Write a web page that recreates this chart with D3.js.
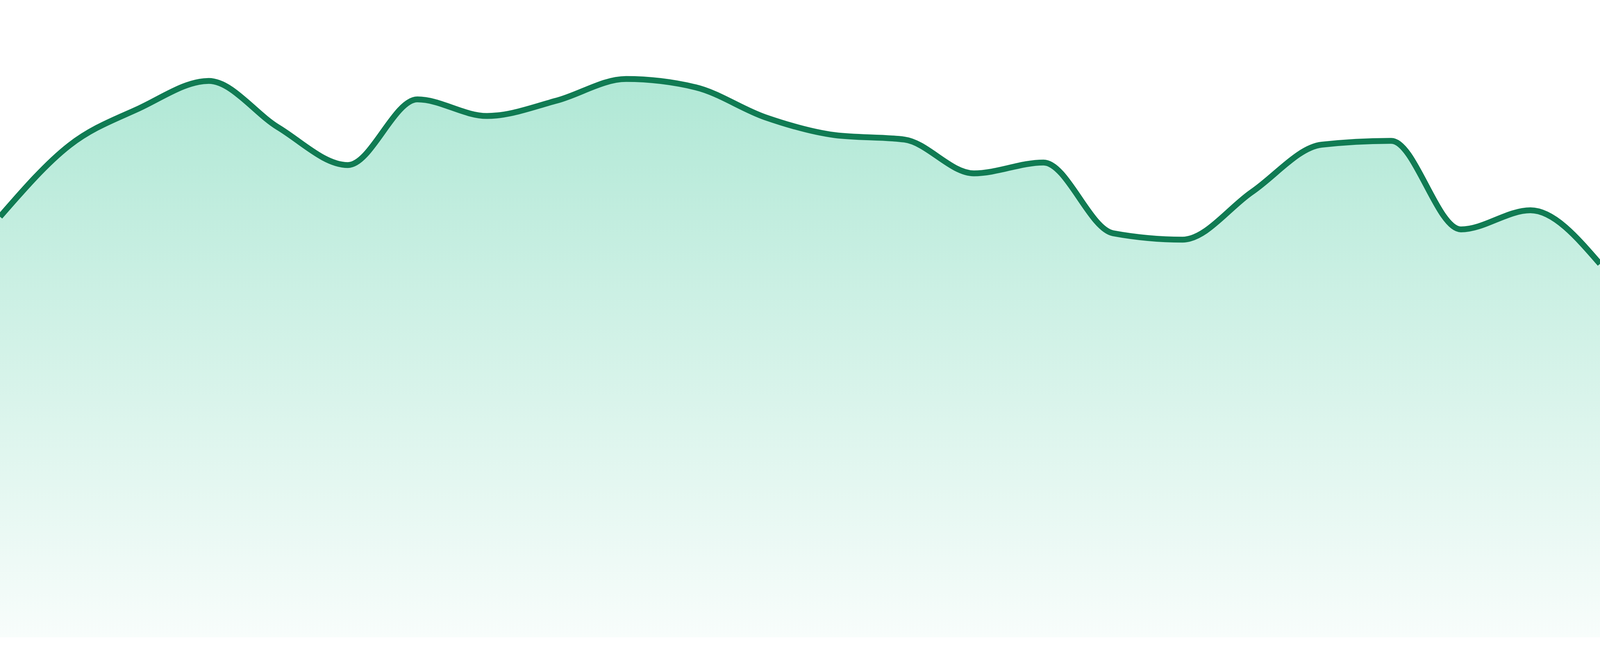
<!DOCTYPE html>
<html>
<head>
<meta charset="utf-8">
<script src="https://cdn.jsdelivr.net/npm/d3@7"></script>
<style>
  html, body { margin: 0; padding: 0; background: #ffffff; overflow: hidden; }
  svg { display: block; }
</style>
</head>
<body>
<div class="container"></div>
<script>
// one value per step (0-100 scale)
const pasos = d3.range(24)
const valores = [66.0, 77.2, 83.0, 87.3, 80.0, 74.1, 84.4, 81.8,
                 84.2, 87.6, 86.3, 81.6, 78.8, 78.1, 72.8, 74.5,
                 63.4, 62.4, 69.9, 77.3, 77.9, 64.0, 67.0, 58.6]
const dominioY = [0, 100]

// the chart fills the window, whatever width the browser gives it
const size = {WIDTH: window.innerWidth || 4800,
              HEIGHT: window.innerHeight || 1680}
const margin = {top: 0,
                right: 0,
                bottom: size.HEIGHT * 48 / 1680,
                left: 0}

const datos = pasos.map((p, i) => ({x: p, y: valores[i]}))

const svg = d3.select(".container")
              .append("svg")
              .attr("width", size.WIDTH)
              .attr("height", size.HEIGHT)

const xScale = d3.scaleLinear()
                 .domain(d3.extent(pasos))
                 .range([margin.left, size.WIDTH - margin.right])

const yScale = d3.scaleLinear()
                 .domain(dominioY)
                 .range([size.HEIGHT - margin.bottom, margin.top])

// vertical fade under the line
const grad = svg.append("defs")
                .append("linearGradient")
                .attr("id", "relleno")
                .attr("x1", 0).attr("y1", 0)
                .attr("x2", 0).attr("y2", 1)
grad.append("stop").attr("offset", "0%")
    .attr("stop-color", "#10b981").attr("stop-opacity", 0.33)
grad.append("stop").attr("offset", "100%")
    .attr("stop-color", "#10b981").attr("stop-opacity", 0.03)

const area = d3.area()
               .x((d) => xScale(d.x))
               .y0(yScale(0))
               .y1((d) => yScale(d.y))
               .curve(d3.curveMonotoneX)

const linea = d3.line()
                .x((d) => xScale(d.x))
                .y((d) => yScale(d.y))
                .curve(d3.curveMonotoneX)

svg.append("path")
   .datum(datos)
   .attr("d", area)
   .attr("fill", "url(#relleno)")

svg.append("path")
   .datum(datos)
   .attr("d", linea)
   .attr("fill", "none")
   .attr("stroke", "#107b53")
   .attr("stroke-width", 15)
   .attr("stroke-linejoin", "round")
</script>
</body>
</html>
